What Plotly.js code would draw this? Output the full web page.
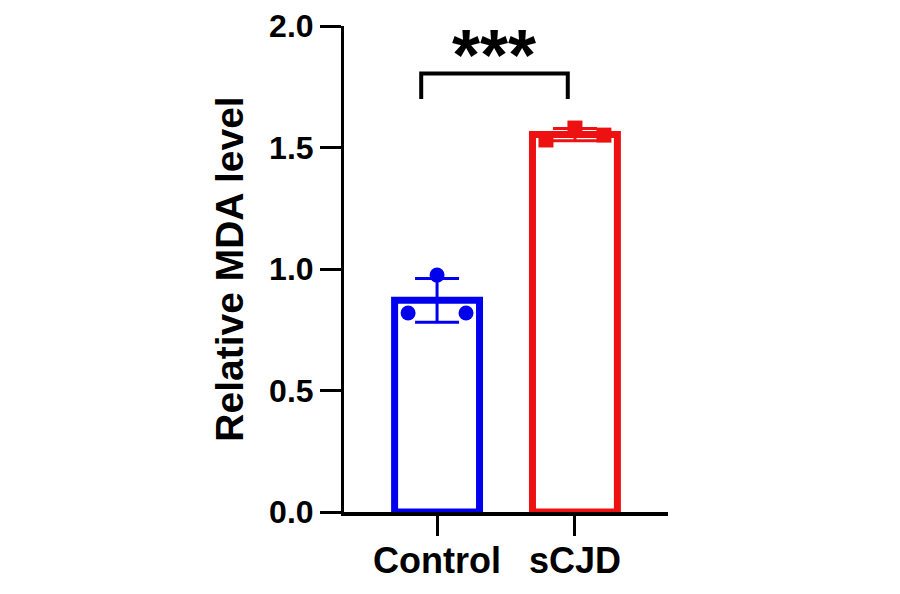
<!DOCTYPE html>
<html>
<head>
<meta charset="utf-8">
<script src="https://cdn.plot.ly/plotly-3.0.1.min.js"></script>
<style>
  html, body { margin: 0; padding: 0; background: #ffffff; }
  #chart { width: 900px; height: 594px; }
</style>
</head>
<body>
<div id="chart"></div>
<script>
// values
const groups = [ 'Control', 'sCJD' ];
const groupMeans = [ 0.871, 1.553 ];
const groupSD = [ 0.090, 0.025 ];
const controlPoints = [ 0.819, 0.975, 0.819 ];
const scjdPoints = [ 1.531, 1.580, 1.551 ];
const yTicks = [ 0, 0.5, 1.0, 1.5, 2.0 ];

const groupColors = [ '#0000EE', '#EE1111' ];
const pointSpread = [ -0.21, 0, 0.21 ];   // horizontal spread of dots inside a bar
const FONT = 'Liberation Sans, Arial, Helvetica, sans-serif';

function pointsTrace( groupIndex, values, symbol ) {
    return {
        type: 'scatter',
        mode: 'markers',
        x: values.map( ( v, i ) => groupIndex + pointSpread[ i ] ),
        y: values,
        marker: { color: groupColors[ groupIndex ], size: 15, symbol: symbol },
        hoverinfo: 'y',
        showlegend: false
    };
}

// the error bar colour is per trace, so each group gets its own bar trace
let bars = groups.map( ( g, i ) => ({
    type: 'bar',
    x: [ i ],
    y: [ groupMeans[ i ] ],
    width: 0.616,
    marker: { color: '#ffffff', line: { color: groupColors[ i ], width: 7 } },
    error_y: { type: 'data', array: [ groupSD[ i ] ], visible: true, color: groupColors[ i ], thickness: 3, width: 22 },
    showlegend: false
}) );

let data = bars.concat([
    pointsTrace( 0, controlPoints, 'circle' ),
    pointsTrace( 1, scjdPoints, 'square' )
]);

// significance bracket between the two groups
const bracketLeft = 0 - 0.115;
const bracketRight = 1 - 0.052;
const bracketTop = 1.805;
const bracketFoot = 1.70;

let layout = {
    width: 900,
    height: 594,
    margin: { l: 344, r: 232, t: 26, b: 82, pad: 0 },
    paper_bgcolor: '#ffffff',
    plot_bgcolor: '#ffffff',
    font: { family: FONT, color: '#000000' },
    barmode: 'overlay',
    xaxis: {
        range: [ -0.675, 1.675 ],
        tickvals: groups.map( ( g, i ) => i ),
        ticktext: groups,
        ticks: 'outside',
        ticklen: 20,
        tickwidth: 3,
        tickcolor: '#000000',
        showline: true,
        linewidth: 3.5,
        linecolor: '#000000',
        showgrid: false,
        zeroline: false,
        layer: 'above traces',
        ticklabelstandoff: -6,
        tickfont: { family: FONT, size: 36, weight: 'bold', color: '#000000' }
    },
    yaxis: {
        range: [ 0, 2.0 ],
        tickvals: yTicks,
        tickformat: '.1f',
        ticks: 'outside',
        ticklen: 21,
        tickwidth: 3,
        tickcolor: '#000000',
        showline: true,
        linewidth: 3,
        linecolor: '#000000',
        showgrid: false,
        zeroline: false,
        layer: 'above traces',
        tickfont: { family: FONT, size: 32, weight: 'bold', color: '#000000' },
        title: {
            text: 'Relative MDA level',
            font: { family: FONT, size: 39, weight: 'bold', color: '#000000' },
            standoff: 14
        }
    },
    shapes: [
        {
            type: 'path',
            xref: 'x', yref: 'y',
            path: 'M ' + bracketLeft + ',' + bracketFoot + ' L ' + bracketLeft + ',' + bracketTop +
                  ' L ' + bracketRight + ',' + bracketTop + ' L ' + bracketRight + ',' + bracketFoot,
            line: { color: '#000000', width: 4 }
        }
    ],
    annotations: [
        {
            xref: 'x', yref: 'y',
            x: ( bracketLeft + bracketRight ) / 2,
            y: 1.88,
            text: '***',
            showarrow: false,
            xanchor: 'center',
            yanchor: 'middle',
            font: { family: FONT, size: 72, weight: 'bold', color: '#000000' }
        }
    ]
};

Plotly.newPlot( 'chart', data, layout, { displayModeBar: false, staticPlot: true } );
</script>
</body>
</html>
